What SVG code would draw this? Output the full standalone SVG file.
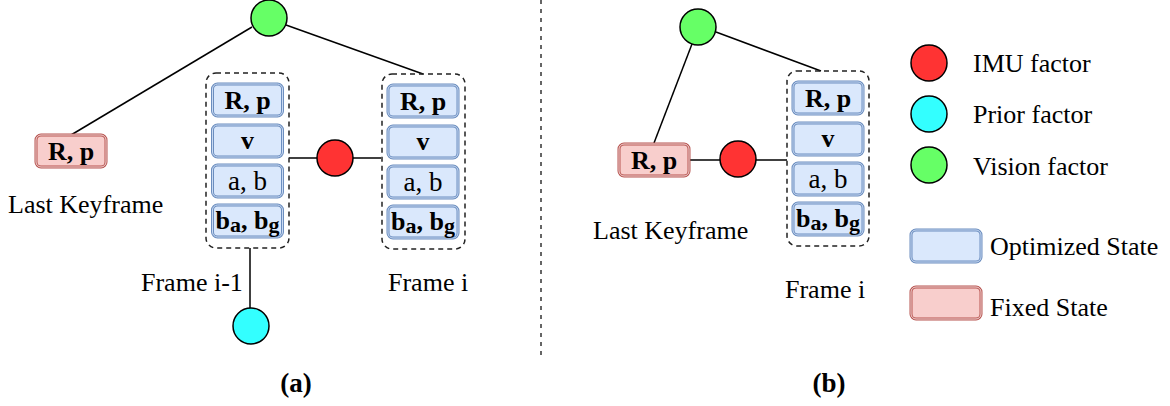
<svg xmlns="http://www.w3.org/2000/svg" width="1170" height="406" viewBox="0 0 1170 406">
<style>
text{font-family:"Liberation Serif","Times New Roman",serif;fill:#000}
.lbl{font-size:26px}
.bt{font-size:26px;font-weight:bold;text-anchor:middle}
.rt{font-size:27px;text-anchor:middle}
.sub{font-size:22px}
.opt{fill:#dae8fc;stroke:#6c8ebf;stroke-width:3}
.opti{fill:none;stroke:#c9daf3;stroke-width:1}
.fix{fill:#f8cecc;stroke:#b85450;stroke-width:3}
.fixi{fill:none;stroke:#f2d9d8;stroke-width:1}
.grp{fill:none;stroke:#222;stroke-width:1.5;stroke-dasharray:5 4}
.ln{stroke:#000;stroke-width:1.5;fill:none}
.fac{stroke:#000;stroke-width:1.5}
.cap{font-size:27px;font-weight:bold;text-anchor:middle}
</style>
<defs>
<g id="optbox"><rect class="opt" x="0" y="0" width="70" height="32" rx="5"/><rect class="opti" x="0" y="0" width="70" height="32" rx="5"/></g>
<g id="fixbox"><rect class="fix" x="0" y="0" width="70" height="32" rx="5"/><rect class="fixi" x="0" y="0" width="70" height="32" rx="5"/></g>
</defs>

<g id="connectors">
<line class="ln" x1="252" y1="27" x2="71" y2="135"/>
<line class="ln" x1="286" y1="25" x2="423" y2="74"/>
<line class="ln" x1="289" y1="158" x2="381" y2="158"/>
<line class="ln" x1="250" y1="248" x2="250" y2="308"/>
<line class="ln" x1="692" y1="44" x2="654" y2="143"/>
<line class="ln" x1="716" y1="32" x2="821" y2="71"/>
<line class="ln" x1="690" y1="160" x2="787" y2="160"/>
<line x1="541" y1="0" x2="541" y2="360" stroke="#333" stroke-width="1.5" stroke-dasharray="4 5"/>
</g>

<!-- panel (a) -->
<g id="vision-a"><circle class="fac" cx="269" cy="18" r="18" fill="#66ff66"/></g>
<g id="lastkf-a">
<use href="#fixbox" x="36" y="135"/>
<text class="bt" x="71" y="160">R, p</text>
<text class="lbl" x="8" y="213">Last Keyframe</text>
</g>
<g id="frame-im1">
<rect class="grp" x="206" y="73" width="83" height="175" rx="10"/>
<use href="#optbox" x="212.5" y="84"/>
<text class="bt" x="247.5" y="109">R, p</text>
<use href="#optbox" x="212.5" y="125"/>
<text class="bt" x="247.5" y="149">v</text>
<use href="#optbox" x="212.5" y="165"/>
<text class="rt" x="247.5" y="190">a, b</text>
<use href="#optbox" x="212.5" y="205"/>
<text class="bt" x="247.5" y="229">b<tspan class="sub" dy="3">a</tspan><tspan dy="-3">, b</tspan><tspan class="sub" dy="3">g</tspan></text>
<text class="lbl" x="141" y="291">Frame i-1</text>
</g>
<g id="imu-a"><circle class="fac" cx="335" cy="158" r="18" fill="#ff3333"/></g>
<g id="frame-i-a">
<rect class="grp" x="382" y="74" width="83" height="175" rx="10"/>
<use href="#optbox" x="388" y="85"/>
<text class="bt" x="423" y="110">R, p</text>
<use href="#optbox" x="388" y="126"/>
<text class="bt" x="423" y="150">v</text>
<use href="#optbox" x="388" y="166"/>
<text class="rt" x="423" y="191">a, b</text>
<use href="#optbox" x="388" y="206"/>
<text class="bt" x="423" y="230">b<tspan class="sub" dy="3">a</tspan><tspan dy="-3">, b</tspan><tspan class="sub" dy="3">g</tspan></text>
<text class="lbl" x="388" y="291">Frame i</text>
</g>
<g id="prior-a"><circle class="fac" cx="251" cy="326" r="18" fill="#33ffff"/></g>
<text class="cap" x="296" y="392">(a)</text>

<!-- panel (b) -->
<g id="vision-b"><circle class="fac" cx="698" cy="27" r="18" fill="#66ff66"/></g>
<g id="lastkf-b">
<use href="#fixbox" x="619" y="144"/>
<text class="bt" x="654" y="169">R, p</text>
<text class="lbl" x="593" y="239">Last Keyframe</text>
</g>
<g id="imu-b"><circle class="fac" cx="738" cy="159" r="18" fill="#ff3333"/></g>
<g id="frame-i-b">
<rect class="grp" x="787" y="71" width="82" height="175" rx="10"/>
<use href="#optbox" x="793" y="82"/>
<text class="bt" x="828" y="107">R, p</text>
<use href="#optbox" x="793" y="123"/>
<text class="bt" x="828" y="147">v</text>
<use href="#optbox" x="793" y="163"/>
<text class="rt" x="828" y="188">a, b</text>
<use href="#optbox" x="793" y="203"/>
<text class="bt" x="828" y="227">b<tspan class="sub" dy="3">a</tspan><tspan dy="-3">, b</tspan><tspan class="sub" dy="3">g</tspan></text>
<text class="lbl" x="785" y="298">Frame i</text>
</g>
<text class="cap" x="829" y="392">(b)</text>

<!-- legend -->
<g id="legend">
<circle class="fac" cx="929" cy="63" r="18" fill="#ff3333"/>
<text class="lbl" x="973" y="72">IMU factor</text>
<circle class="fac" cx="929" cy="114" r="18" fill="#33ffff"/>
<text class="lbl" x="973" y="123">Prior factor</text>
<circle class="fac" cx="929" cy="165" r="18" fill="#66ff66"/>
<text class="lbl" x="973" y="175">Vision factor</text>
<use href="#optbox" x="911" y="230"/>
<text class="lbl" x="990" y="255">Optimized State</text>
<use href="#fixbox" x="911" y="287"/>
<text class="lbl" x="990" y="316">Fixed State</text>
</g>
</svg>
